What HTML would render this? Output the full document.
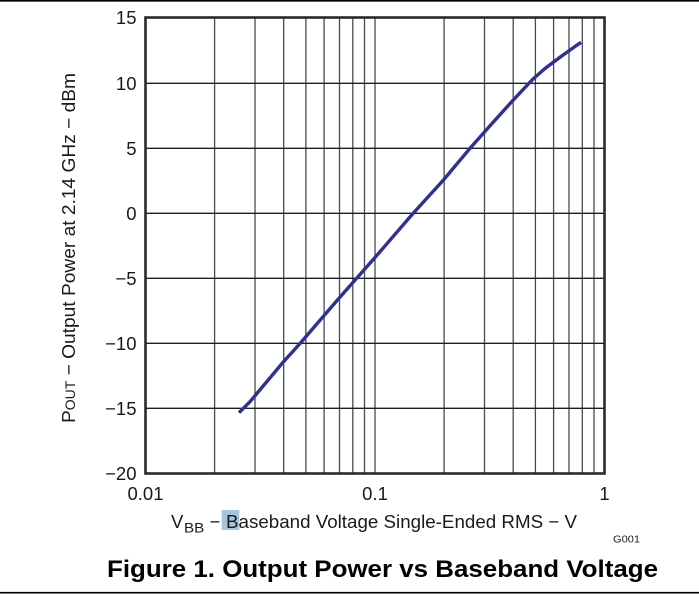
<!DOCTYPE html>
<html>
<head>
<meta charset="utf-8">
<style>
  html,body{margin:0;padding:0;background:#fff;}
  svg{display:block;}
  text{font-family:"Liberation Sans",Arial,sans-serif;fill:#1a1a1a;}
</style>
</head>
<body>
<svg width="699" height="594" viewBox="0 0 699 594" xmlns="http://www.w3.org/2000/svg">
  <!-- top and bottom page rules -->
  <line x1="0" y1="0.8" x2="699" y2="0.8" stroke="#000" stroke-width="1.6"/>
  <line x1="0" y1="592.7" x2="699" y2="592.7" stroke="#000" stroke-width="1.6"/>

  <!-- vertical grid lines (log) -->
  <g stroke="#4a4a4a" stroke-width="1.3">
    <line x1="214.6" y1="18" x2="214.6" y2="473"/>
    <line x1="255.0" y1="18" x2="255.0" y2="473"/>
    <line x1="283.7" y1="18" x2="283.7" y2="473"/>
    <line x1="305.9" y1="18" x2="305.9" y2="473"/>
    <line x1="324.1" y1="18" x2="324.1" y2="473"/>
    <line x1="339.5" y1="18" x2="339.5" y2="473"/>
    <line x1="352.8" y1="18" x2="352.8" y2="473"/>
    <line x1="364.5" y1="18" x2="364.5" y2="473"/>
    <line x1="375.0" y1="18" x2="375.0" y2="473"/>
    <line x1="444.1" y1="18" x2="444.1" y2="473"/>
    <line x1="484.5" y1="18" x2="484.5" y2="473"/>
    <line x1="513.2" y1="18" x2="513.2" y2="473"/>
    <line x1="535.4" y1="18" x2="535.4" y2="473"/>
    <line x1="553.6" y1="18" x2="553.6" y2="473"/>
    <line x1="569.0" y1="18" x2="569.0" y2="473"/>
    <line x1="582.3" y1="18" x2="582.3" y2="473"/>
    <line x1="594.0" y1="18" x2="594.0" y2="473"/>
  </g>
  <!-- horizontal grid lines -->
  <g stroke="#1e1e1e" stroke-width="1.3">
    <line x1="145.5" y1="83.3" x2="604.5" y2="83.3"/>
    <line x1="145.5" y1="148.3" x2="604.5" y2="148.3"/>
    <line x1="145.5" y1="213.3" x2="604.5" y2="213.3"/>
    <line x1="145.5" y1="278.3" x2="604.5" y2="278.3"/>
    <line x1="145.5" y1="343.3" x2="604.5" y2="343.3"/>
    <line x1="145.5" y1="408.3" x2="604.5" y2="408.3"/>
  </g>
  <!-- plot border -->
  <rect x="145.5" y="17.5" width="459" height="456" fill="none" stroke="#2a2a2a" stroke-width="2.6"/>

  <!-- data curve -->
  <path d="M239,412.7 L250,401.7 L283.3,362 L300,343.5 L337,300.5 L375,257.5 L413,213.5 L443,180.5 L470,148.3 L490,125.8 L511.7,101.7 L533,79 L545,68.5 L553,62.5 L561,56.5 L568,51.5 L575,46.5 L581,42.3"
        fill="none" stroke="#2e3192" stroke-width="3.4" stroke-linejoin="round" stroke-linecap="butt"/>

  <!-- y tick labels -->
  <g font-size="18.5" text-anchor="end">
    <text x="136.5" y="24">15</text>
    <text x="136.5" y="89.8">10</text>
    <text x="136.5" y="154.8">5</text>
    <text x="136.5" y="219.8">0</text>
    <text x="136.5" y="284.8">−5</text>
    <text x="136.5" y="349.8">−10</text>
    <text x="136.5" y="414.8">−15</text>
    <text x="136.5" y="479.8">−20</text>
  </g>
  <!-- x tick labels -->
  <g font-size="18.5" text-anchor="middle">
    <text x="145.5" y="500">0.01</text>
    <text x="375" y="500">0.1</text>
    <text x="604.5" y="500">1</text>
  </g>

  <!-- highlight box behind B -->
  <rect x="221.7" y="510" width="17.6" height="20" fill="#a3c4dc"/>

  <!-- x axis title -->
  <text x="171" y="528" font-size="18.5">V</text>
  <text x="184" y="532.5" font-size="13.5" textLength="20.3" lengthAdjust="spacingAndGlyphs">BB</text>
  <text x="209.5" y="528" font-size="18.5">−</text>
  <text x="226" y="528" font-size="18.5" textLength="351" lengthAdjust="spacingAndGlyphs">Baseband Voltage Single-Ended RMS − V</text>

  <!-- y axis title -->
  <text transform="translate(75,248) rotate(-90)" font-size="18.5" text-anchor="middle" textLength="350" lengthAdjust="spacingAndGlyphs">P<tspan font-size="13.5">OUT</tspan> − Output Power at 2.14 GHz − dBm</text>

  <!-- G001 -->
  <text x="613" y="542.7" font-size="10.5" textLength="27" lengthAdjust="spacingAndGlyphs">G001</text>

  <!-- figure title -->
  <text x="107" y="577" font-size="24" font-weight="bold" style="fill:#000" textLength="551" lengthAdjust="spacingAndGlyphs">Figure 1. Output Power vs Baseband Voltage</text>
</svg>
</body>
</html>
